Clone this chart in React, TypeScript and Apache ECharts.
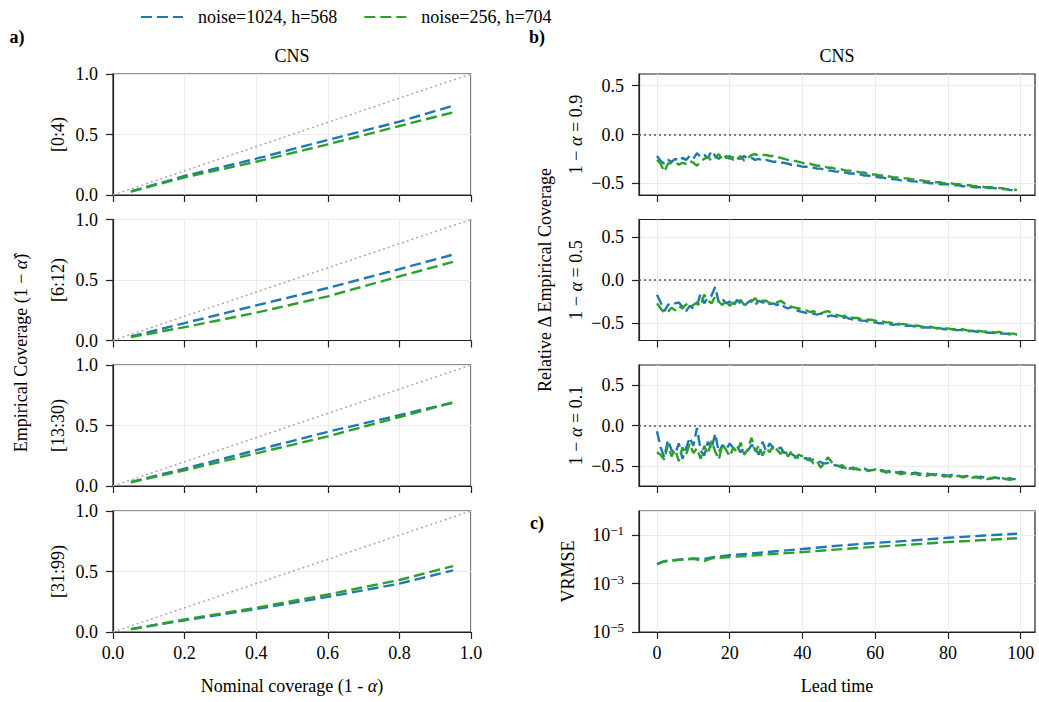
import React, { useEffect, useRef } from 'react';
import * as echarts from 'echarts';

const FONT = '"Liberation Serif", "Times New Roman", serif';
const BLUE = '#1f77b4';
const GREEN = '#2ca02c';
const NAME_BLUE = 'noise=1024, h=568';
const NAME_GREEN = 'noise=256, h=704';

// ---- panel a: coverage calibration ----
const nominal = [0.05, 0.2, 0.4, 0.6, 0.8, 0.95];
const diagonal = [0, 1];
const binLabels = ['[0:4)', '[6:12)', '[13:30)', '[31:99)'];
const cov0Blue = [0.03, 0.157, 0.30, 0.455, 0.606, 0.738];
const cov0Green = [0.028, 0.146, 0.275, 0.419, 0.57, 0.683];
const cov1Blue = [0.033, 0.144, 0.29, 0.434, 0.59, 0.71];
const cov1Green = [0.028, 0.11, 0.23, 0.365, 0.53, 0.65];
const cov2Blue = [0.033, 0.144, 0.296, 0.448, 0.586, 0.69];
const cov2Green = [0.03, 0.13, 0.27, 0.41, 0.57, 0.69];
const cov3Blue = [0.025, 0.096, 0.19, 0.29, 0.40, 0.51];
const cov3Green = [0.022, 0.104, 0.20, 0.31, 0.43, 0.545];
const covBlue = [cov0Blue, cov1Blue, cov2Blue, cov3Blue];
const covGreen = [cov0Green, cov1Green, cov2Green, cov3Green];

// ---- panel b: relative delta coverage vs lead time ----
const leadTime = Array.from({ length: 100 }, (_, i) => i);
const levelLabels = ['0.9', '0.5', '0.1'];
const levelLims = [0.62, 0.70, 0.745];
const deltaTicks = [-0.5, 0, 0.5];
const leadTicks = [0, 20, 40, 60, 80, 100];

const d09Blue = [
  -0.22, -0.27, -0.30, -0.26, -0.28, -0.25, -0.27, -0.24, -0.26, -0.22,
  -0.25, -0.19, -0.23, -0.21, -0.24, -0.17, -0.22, -0.25, -0.21, -0.24,
  -0.22, -0.26, -0.23, -0.25, -0.22, -0.25, -0.24, -0.26, -0.25, -0.27,
  -0.26, -0.27, -0.28, -0.28, -0.29, -0.29, -0.30, -0.31, -0.31, -0.32,
  -0.33, -0.33, -0.34, -0.34, -0.35, -0.35, -0.36, -0.37, -0.37, -0.38,
  -0.38, -0.39, -0.39, -0.40, -0.40, -0.41, -0.41, -0.42, -0.42, -0.43,
  -0.43, -0.44, -0.44, -0.45, -0.45, -0.46, -0.46, -0.47, -0.47, -0.47,
  -0.48, -0.48, -0.49, -0.49, -0.49, -0.50, -0.50, -0.50, -0.51, -0.51,
  -0.51, -0.52, -0.52, -0.52, -0.53, -0.53, -0.53, -0.54, -0.54, -0.54,
  -0.54, -0.55, -0.55, -0.55, -0.56, -0.56, -0.56, -0.57, -0.57, -0.57,
];
const d09Green = [
  -0.26, -0.30, -0.38, -0.30, -0.29, -0.28, -0.31, -0.29, -0.30, -0.27,
  -0.29, -0.32, -0.27, -0.25, -0.23, -0.27, -0.24, -0.20, -0.26, -0.22,
  -0.25, -0.23, -0.26, -0.22, -0.27, -0.24, -0.21, -0.20, -0.22, -0.21,
  -0.21, -0.22, -0.22, -0.23, -0.24, -0.25, -0.26, -0.27, -0.27, -0.28,
  -0.29, -0.30, -0.30, -0.31, -0.32, -0.32, -0.33, -0.34, -0.34, -0.35,
  -0.35, -0.36, -0.37, -0.37, -0.38, -0.38, -0.39, -0.39, -0.40, -0.41,
  -0.41, -0.42, -0.42, -0.43, -0.43, -0.44, -0.44, -0.45, -0.45, -0.45,
  -0.46, -0.46, -0.47, -0.47, -0.48, -0.48, -0.49, -0.49, -0.49, -0.50,
  -0.50, -0.50, -0.51, -0.51, -0.52, -0.52, -0.52, -0.53, -0.53, -0.53,
  -0.54, -0.54, -0.54, -0.55, -0.55, -0.55, -0.56, -0.56, -0.56, -0.57,
];
const d05Blue = [
  -0.17, -0.26, -0.36, -0.29, -0.26, -0.27, -0.26, -0.31, -0.36, -0.30,
  -0.33, -0.29, -0.16, -0.27, -0.20, -0.18, -0.08, -0.26, -0.22, -0.27,
  -0.25, -0.30, -0.23, -0.27, -0.30, -0.26, -0.23, -0.29, -0.24, -0.26,
  -0.25, -0.28, -0.27, -0.29, -0.27, -0.31, -0.33, -0.31, -0.34, -0.36,
  -0.37, -0.38, -0.37, -0.39, -0.40, -0.39, -0.41, -0.42, -0.41, -0.42,
  -0.43, -0.44, -0.43, -0.45, -0.46, -0.45, -0.47, -0.47, -0.48, -0.49,
  -0.49, -0.50, -0.50, -0.51, -0.51, -0.52, -0.51, -0.52, -0.53, -0.53,
  -0.53, -0.54, -0.54, -0.55, -0.55, -0.55, -0.56, -0.56, -0.56, -0.57,
  -0.57, -0.57, -0.58, -0.58, -0.58, -0.59, -0.59, -0.59, -0.60, -0.60,
  -0.60, -0.61, -0.61, -0.61, -0.62, -0.62, -0.62, -0.63, -0.63, -0.63,
];
const d05Green = [
  -0.27, -0.33, -0.38, -0.37, -0.32, -0.35, -0.30, -0.33, -0.28, -0.32,
  -0.29, -0.26, -0.30, -0.17, -0.24, -0.27, -0.19, -0.25, -0.29, -0.24,
  -0.30, -0.26, -0.29, -0.23, -0.29, -0.26, -0.25, -0.21, -0.27, -0.24,
  -0.24, -0.27, -0.25, -0.26, -0.24, -0.27, -0.29, -0.31, -0.32, -0.33,
  -0.34, -0.35, -0.37, -0.36, -0.38, -0.39, -0.37, -0.36, -0.38, -0.40,
  -0.41, -0.42, -0.41, -0.43, -0.44, -0.44, -0.45, -0.45, -0.46, -0.46,
  -0.47, -0.48, -0.48, -0.49, -0.49, -0.50, -0.50, -0.51, -0.51, -0.52,
  -0.52, -0.53, -0.53, -0.54, -0.55, -0.54, -0.55, -0.56, -0.55, -0.56,
  -0.56, -0.57, -0.57, -0.58, -0.57, -0.58, -0.59, -0.58, -0.59, -0.59,
  -0.60, -0.59, -0.60, -0.61, -0.60, -0.61, -0.61, -0.62, -0.62, -0.63,
];
const d01Blue = [
  -0.07, -0.27, -0.39, -0.18, -0.30, -0.35, -0.22, -0.41, -0.28, -0.15,
  -0.25, -0.03, -0.31, -0.37, -0.20, -0.29, -0.10, -0.33, -0.24, -0.30,
  -0.22, -0.28, -0.25, -0.33, -0.27, -0.31, -0.24, -0.28, -0.36, -0.20,
  -0.31, -0.22, -0.28, -0.30, -0.27, -0.34, -0.31, -0.35, -0.38, -0.40,
  -0.41, -0.40, -0.43, -0.42, -0.44, -0.45, -0.47, -0.46, -0.48, -0.49,
  -0.50, -0.52, -0.51, -0.53, -0.52, -0.54, -0.54, -0.53, -0.55, -0.55,
  -0.55, -0.56, -0.55, -0.57, -0.56, -0.57, -0.58, -0.57, -0.58, -0.58,
  -0.59, -0.58, -0.59, -0.60, -0.59, -0.60, -0.61, -0.60, -0.61, -0.61,
  -0.62, -0.61, -0.62, -0.62, -0.63, -0.62, -0.63, -0.63, -0.64, -0.63,
  -0.64, -0.64, -0.65, -0.64, -0.65, -0.65, -0.66, -0.65, -0.66, -0.66,
];
const d01Green = [
  -0.33, -0.36, -0.42, -0.24, -0.38, -0.30, -0.44, -0.27, -0.36, -0.22,
  -0.34, -0.28, -0.41, -0.25, -0.35, -0.19, -0.32, -0.42, -0.23, -0.30,
  -0.38, -0.27, -0.33, -0.21, -0.36, -0.29, -0.15, -0.32, -0.25, -0.37,
  -0.28, -0.33, -0.24, -0.30, -0.35, -0.29, -0.38, -0.33, -0.40, -0.36,
  -0.38, -0.43, -0.40, -0.47, -0.44, -0.52, -0.46, -0.39, -0.45, -0.48,
  -0.50, -0.49, -0.53, -0.51, -0.54, -0.53, -0.55, -0.54, -0.56, -0.55,
  -0.54, -0.57, -0.56, -0.58, -0.57, -0.59, -0.58, -0.60, -0.59, -0.58,
  -0.60, -0.59, -0.61, -0.60, -0.62, -0.61, -0.60, -0.62, -0.61, -0.63,
  -0.62, -0.64, -0.63, -0.62, -0.64, -0.63, -0.65, -0.64, -0.63, -0.65,
  -0.64, -0.66, -0.65, -0.64, -0.66, -0.65, -0.66, -0.67, -0.66, -0.67,
];
const deltaBlue = [d09Blue, d05Blue, d01Blue];
const deltaGreen = [d09Green, d05Green, d01Green];

// ---- panel c: VRMSE ----
const vrmseLead = [0, 2, 5, 10, 13, 15, 20, 25, 30, 40, 50, 60, 70, 80, 90, 99];
const vrmseBlue = [0.0065, 0.0085, 0.0095, 0.011, 0.0105, 0.012, 0.015, 0.017, 0.020, 0.027, 0.037, 0.048, 0.060, 0.078, 0.097, 0.115];
const vrmseGreen = [0.0062, 0.0082, 0.0092, 0.0105, 0.0085, 0.011, 0.0125, 0.014, 0.016, 0.020, 0.026, 0.033, 0.041, 0.052, 0.063, 0.075];

const FS = 18;
const GRID_TOPS = [74, 219.5, 365, 511];
const GRID_H = 121;
const LEFT_X = 113;
const LEFT_W = 358;
const RIGHT_X = 639;
const RIGHT_W = 396;

const txt = { fontFamily: FONT, fontSize: FS, color: '#000' };
const rich = {
  n: { fontFamily: FONT, fontSize: FS, color: '#000' },
  i: { fontFamily: FONT, fontSize: FS, color: '#000', fontStyle: 'italic' },
};
const splitLine = { show: true, lineStyle: { color: '#ebebeb', width: 1 } };
const axisLine = { show: true, onZero: false, lineStyle: { color: '#222', width: 1.2 } };
const axisTick = { show: true, length: 7, lineStyle: { color: '#222', width: 1.2 } };
const dashed = (color: string) => ({ color, width: 2.4, type: [11, 5] as any });
const gridBox = (left: number, top: number, width: number) => ({
  left, top, width, height: GRID_H, show: true, borderColor: '#222', borderWidth: 1.2, backgroundColor: 'transparent',
});

export default function App() {
  const ref = useRef<HTMLDivElement>(null);
  useEffect(() => {
    if (!ref.current) return;
    const chart = echarts.init(ref.current, null, { renderer: 'svg' });
    const grid: any[] = [];
    const xAxis: any[] = [];
    const yAxis: any[] = [];
    const series: any[] = [];

    // left panels
    for (let p = 0; p < 4; p++) {
      grid.push(gridBox(LEFT_X, GRID_TOPS[p], LEFT_W));
      const last = p === 3;
      xAxis.push({
        type: 'value', gridIndex: p, min: 0, max: 1, interval: 0.2,
        axisLine, axisTick, splitLine,
        axisLabel: { show: last, ...txt, margin: 12, formatter: (v: number) => v.toFixed(1) },
        name: last ? '{n|Nominal coverage (1 - }{i|α}{n|)}' : '',
        nameLocation: 'middle', nameGap: 45, nameTextStyle: { rich },
      });
      yAxis.push({
        type: 'value', gridIndex: p, min: 0, max: 1, interval: 0.5,
        axisLine, axisTick, splitLine,
        axisLabel: { ...txt, margin: 15, formatter: (v: number) => v.toFixed(1) },
        name: binLabels[p], nameLocation: 'middle', nameGap: 46, nameTextStyle: { ...txt },
      });
      series.push({
        type: 'line', xAxisIndex: p, yAxisIndex: p, data: diagonal.map((v) => [v, v]),
        symbol: 'none', silent: true, lineStyle: { color: '#aaaaaa', width: 1.5, type: [2, 3] },
      });
      series.push({
        type: 'line', name: NAME_BLUE, xAxisIndex: p, yAxisIndex: p,
        data: nominal.map((x, i) => [x, covBlue[p][i]]), symbol: 'none', lineStyle: dashed(BLUE), itemStyle: { color: BLUE },
      });
      series.push({
        type: 'line', name: NAME_GREEN, xAxisIndex: p, yAxisIndex: p,
        data: nominal.map((x, i) => [x, covGreen[p][i]]), symbol: 'none', lineStyle: dashed(GREEN), itemStyle: { color: GREEN },
      });
    }

    // right panels b
    for (let p = 0; p < 3; p++) {
      const gi = 4 + p;
      grid.push(gridBox(RIGHT_X, GRID_TOPS[p], RIGHT_W));
      xAxis.push({
        type: 'value', gridIndex: gi, min: -4.95, max: 103.95,
        axisLine, axisTick: { ...axisTick, customValues: leadTicks }, splitLine,
        axisLabel: { show: false, customValues: leadTicks },
      });
      yAxis.push({
        type: 'value', gridIndex: gi, min: -levelLims[p], max: levelLims[p],
        axisLine, axisTick: { ...axisTick, customValues: deltaTicks }, splitLine,
        axisLabel: { ...txt, margin: 15, customValues: deltaTicks, formatter: (v: number) => (v < 0 ? '−' : '') + Math.abs(v).toFixed(1) },
        name: `{n|1 − }{i|α}{n| = ${levelLabels[p]}}`, nameLocation: 'middle', nameGap: 54, nameTextStyle: { rich },
      });
      series.push({
        type: 'line', name: NAME_BLUE, xAxisIndex: gi, yAxisIndex: gi,
        data: leadTime.map((t, i) => [t, deltaBlue[p][i]]), symbol: 'none', lineStyle: dashed(BLUE), itemStyle: { color: BLUE },
        markLine: {
          silent: true, symbol: 'none', label: { show: false },
          lineStyle: { color: '#555', width: 1.5, type: [2, 3] },
          data: [{ yAxis: 0 }],
        },
      });
      series.push({
        type: 'line', name: NAME_GREEN, xAxisIndex: gi, yAxisIndex: gi,
        data: leadTime.map((t, i) => [t, deltaGreen[p][i]]), symbol: 'none', lineStyle: dashed(GREEN), itemStyle: { color: GREEN },
      });
    }

    // right panel c
    grid.push(gridBox(RIGHT_X, GRID_TOPS[3], RIGHT_W));
    xAxis.push({
      type: 'value', gridIndex: 7, min: -4.95, max: 103.95,
      axisLine, axisTick: { ...axisTick, customValues: leadTicks }, splitLine,
      axisLabel: { ...txt, margin: 12, customValues: leadTicks },
      name: 'Lead time', nameLocation: 'middle', nameGap: 45, nameTextStyle: { ...txt },
    });
    yAxis.push({
      type: 'log', logBase: 10, gridIndex: 7, min: 1e-5, max: 1, interval: 2,
      axisLine, axisTick, splitLine,
      axisLabel: {
        ...txt, margin: 15, showMaxLabel: false,
        formatter: (v: number) => `{b|10}{s|−${Math.abs(Math.round(Math.log10(v)))}}`,
        rich: {
          b: { fontFamily: FONT, fontSize: FS, color: '#000' },
          s: { fontFamily: FONT, fontSize: 13, color: '#000', padding: [0, 0, 9, 0] },
        },
      },
      name: 'VRMSE', nameLocation: 'middle', nameGap: 62, nameTextStyle: { ...txt },
    });
    series.push({
      type: 'line', name: NAME_BLUE, xAxisIndex: 7, yAxisIndex: 7,
      data: vrmseLead.map((t, i) => [t, vrmseBlue[i]]), symbol: 'none', lineStyle: dashed(BLUE), itemStyle: { color: BLUE },
    });
    series.push({
      type: 'line', name: NAME_GREEN, xAxisIndex: 7, yAxisIndex: 7,
      data: vrmseLead.map((t, i) => [t, vrmseGreen[i]]), symbol: 'none', lineStyle: dashed(GREEN), itemStyle: { color: GREEN },
    });

    const plain = (text: string, bold = false) => ({
      text, font: `${bold ? 'bold ' : ''}${FS}px ${FONT}`, fill: '#000', align: 'center', verticalAlign: 'middle',
    });
    const graphic: any[] = [
      { type: 'text', x: LEFT_X + LEFT_W / 2, y: 56, style: plain('CNS') },
      { type: 'text', x: RIGHT_X + RIGHT_W / 2, y: 56, style: plain('CNS') },
      { type: 'text', x: 17, y: 37, style: plain('a)', true) },
      { type: 'text', x: 537, y: 37, style: plain('b)', true) },
      { type: 'text', x: 537, y: 523, style: plain('c)', true) },
      {
        type: 'text', x: 21, y: 353, rotation: Math.PI / 2,
        style: { text: '{n|Empirical Coverage (1 − }{i|α̂}{n|)}', rich, align: 'center', verticalAlign: 'middle' },
      },
      {
        type: 'text', x: 545, y: 280, rotation: Math.PI / 2,
        style: plain('Relative Δ Empirical Coverage'),
      },
    ];

    chart.setOption({
      animation: false,
      backgroundColor: '#fff',
      textStyle: { fontFamily: FONT },
      legend: {
        show: true, left: 135, top: 3, itemWidth: 42, itemHeight: 12, itemGap: 26,
        itemStyle: { opacity: 0 },
        textStyle: { ...txt, padding: [0, 0, 0, 10] },
        data: [NAME_BLUE, NAME_GREEN],
      },
      grid, xAxis, yAxis, series, graphic,
    });
    return () => chart.dispose();
  }, []);
  return <div ref={ref} style={{ position: 'fixed', left: 0, top: 0, width: 1039, height: 702 }} />;
}
